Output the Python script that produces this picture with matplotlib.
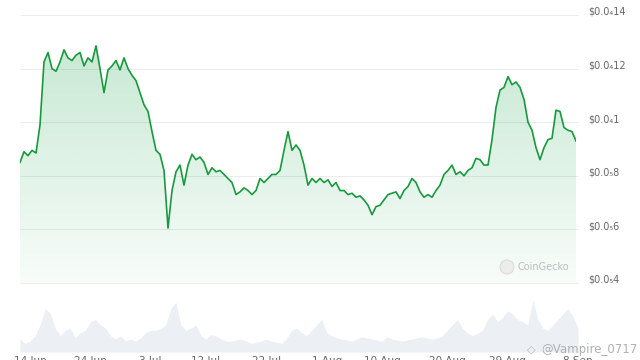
import numpy as np
import matplotlib
matplotlib.use("Agg")
import matplotlib.pyplot as plt
from matplotlib.patches import Polygon, Circle
import matplotlib.transforms as mtransforms

# price in units of 1e-6 USD
price = [8.5, 8.9, 8.75, 8.95, 8.85, 9.9, 12.25, 12.6, 12.0, 11.9, 12.25, 12.7, 12.4, 12.3,
         12.5, 12.6, 12.1, 12.4, 12.25, 12.85, 12.0, 11.1, 11.95, 12.1, 12.3, 11.95, 12.4,
         12.0, 11.75, 11.55, 11.1, 10.65, 10.4, 9.65, 8.95, 8.8, 8.2, 6.05, 7.45, 8.15, 8.4,
         7.65, 8.4, 8.8, 8.6, 8.7, 8.5, 8.05, 8.3, 8.15, 8.2, 8.05, 7.9, 7.75, 7.3, 7.4, 7.55,
         7.45, 7.3, 7.45, 7.9, 7.75, 7.9, 8.05, 8.05, 8.2, 8.95, 9.65, 8.95, 9.15, 8.95, 8.4,
         7.65, 7.9, 7.75, 7.9, 7.75, 7.85, 7.6, 7.75, 7.45, 7.45, 7.3, 7.35, 7.2, 7.25, 7.1,
         6.9, 6.55, 6.85, 6.9, 7.1, 7.3, 7.35, 7.4, 7.15, 7.45, 7.6, 7.9, 7.75, 7.4, 7.2, 7.3,
         7.2, 7.45, 7.65, 8.05, 8.2, 8.4, 8.05, 8.15, 8.0, 8.2, 8.3, 8.65, 8.6, 8.4, 8.4, 9.35,
         10.55, 11.2, 11.3, 11.7, 11.4, 11.5, 11.3, 10.85, 10.0, 9.7, 9.05, 8.6, 9.05, 9.35,
         9.4, 10.45, 10.4, 9.8, 9.7, 9.65, 9.3]

volume = [12, 8, 10, 15, 25, 40, 36, 22, 15, 20, 22, 13, 18, 20, 28, 30, 25, 22, 15, 12, 15,
          10, 12, 10, 13, 18, 20, 20, 22, 25, 40, 46, 25, 20, 22, 25, 15, 12, 16, 15, 12, 10,
          10, 11, 12, 10, 8, 9, 10, 12, 10, 9, 8, 12, 20, 22, 18, 15, 20, 25, 30, 18, 15, 13,
          12, 11, 10, 12, 14, 13, 12, 11, 10, 14, 12, 11, 10, 11, 12, 13, 14, 13, 12, 13, 15,
          20, 25, 30, 22, 18, 15, 17, 20, 30, 35, 28, 32, 38, 35, 30, 28, 25, 48, 30, 22, 20,
          25, 30, 35, 40, 33, 22]

y_ticks = [4, 6, 8, 10, 12, 14]
y_labels = ["$0.0₅4", "$0.0₅6", "$0.0₅8", "$0.0₄1", "$0.0₄12", "$0.0₄14"]

x_tick_pos = [2, 14, 26, 37, 49, 61, 72, 85, 97, 111]
x_tick_labels = ["14 Jun", "24 Jun", "3 Jul", "12 Jul", "22 Jul", "1 Aug", "10 Aug",
                 "20 Aug", "29 Aug", "8 Sep"]

W, H = 640, 360
fig = plt.figure(figsize=(6.4, 3.6), dpi=100)
fig.patch.set_facecolor("white")

green = "#179a3d"

# main price axes
ax = fig.add_axes([20 / W, (H - 283) / H, (576 - 20) / W, (283 - 15) / H])
n = len(price)
t = np.arange(n)
ax.set_xlim(0, n - 1)
ax.set_ylim(4, 14)
ax.axis("off")

ytrans = ax.get_yaxis_transform()
ax.hlines(y_ticks, 0, 1.004, transform=ytrans, colors="#ededed", linewidth=0.8,
          clip_on=False, zorder=0)
lab_trans = mtransforms.offset_copy(ytrans, fig=fig, x=0, y=3, units="dots")
for v, s in zip(y_ticks, y_labels):
    ax.text(1.0216, v, s, transform=lab_trans, ha="left", va="center",
            fontsize=7, color="#666666", family="DejaVu Sans")

# gradient fill
grad_v = np.linspace(4, 14, 256)
alpha = np.clip(0.03 + (grad_v - 4) * 0.0235, 0, 1)
rgba = np.zeros((256, 1, 4))
rgba[..., 0] = 0x16 / 255
rgba[..., 1] = 0xa3 / 255
rgba[..., 2] = 0x4a / 255
rgba[:, 0, 3] = alpha
im = ax.imshow(rgba, extent=[0, n - 1, 4, 14], origin="lower", aspect="auto",
               interpolation="bilinear", zorder=1)
verts = [(0, 4)] + list(zip(t, price)) + [(n - 1, 4)]
poly = Polygon(verts, closed=True, facecolor="none", edgecolor="none")
ax.add_patch(poly)
im.set_clip_path(poly)

ax.plot(t, price, color=green, linewidth=1.2, zorder=3, solid_joinstyle="round")

# watermark CoinGecko
fig.add_artist(Circle((507 / W, (H - 267) / H), 0.0, transform=fig.transFigure))
logo = Circle((507, H - 267), 7, transform=None, facecolor="#ececec",
              edgecolor="#dcdcdc", linewidth=0.8, zorder=5)
fig.add_artist(logo)
fig.text(517 / W, (H - 267) / H, "CoinGecko", fontsize=7, color="#bcbcbc",
         ha="left", va="center")

# volume axes
vax = fig.add_axes([20 / W, (H - 352) / H, (578 - 20) / W, (352 - 300) / H])
m = len(volume)
tv = np.arange(m)
vax.set_xlim(0, m - 1)
vax.set_ylim(0, 48)
vax.fill_between(tv, 0, volume, color="#eceff3", linewidth=0)
for s in vax.spines.values():
    s.set_visible(False)
vax.set_yticks([])
vax.set_xticks(x_tick_pos)
vax.set_xticklabels(x_tick_labels, fontsize=7.5, color="#666666")
vax.tick_params(axis="x", length=0, pad=3)
vax.patch.set_alpha(0)

fig.text(637 / W, (H - 350) / H, "@Vampire_0717", fontsize=8.5, color="#b0b0b0",
         ha="right", va="center")
fig.text(531 / W, (H - 350) / H, "◇", fontsize=8, color="#b8b8b8",
         ha="center", va="center")

fig.savefig("out.png", dpi=100)
